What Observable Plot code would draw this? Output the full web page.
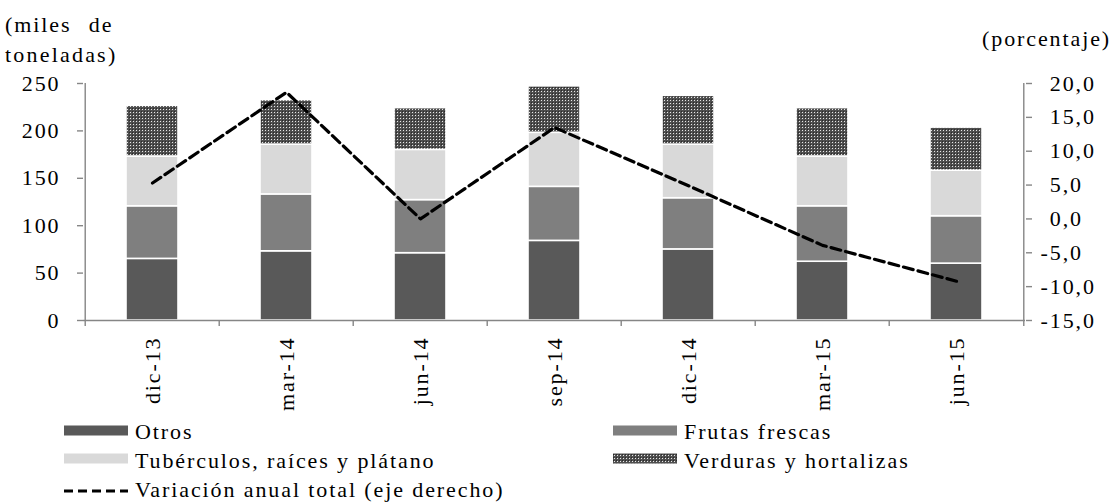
<!DOCTYPE html>
<html>
<head>
<meta charset="utf-8">
<script src="https://cdn.jsdelivr.net/npm/d3@7"></script>
<script src="https://cdn.jsdelivr.net/npm/@observablehq/plot@0.6"></script>
<style>
  html, body { margin: 0; padding: 0; background: #fff; }
  #wrap { position: relative; width: 1115px; height: 503px; overflow: hidden;
          font-family: "Liberation Serif", "Times New Roman", serif; font-size: 22px;
          letter-spacing: 1.9px; color: #000; }
  .lbl { position: absolute; line-height: 22px; white-space: nowrap; }
  .sw { position: absolute; }
</style>
</head>
<body>
<div id="wrap"></div>
<script>
// ---- Data ----
const categories = ["dic-13", "mar-14", "jun-14", "sep-14", "dic-14", "mar-15", "jun-15"];
const seriesNames = ["Otros", "Frutas frescas", "Tubérculos, raíces y plátano", "Verduras y hortalizas"];
const otros      = [65, 73, 71, 84, 75, 62, 60];
const frutas     = [55.5, 60, 56, 57, 54, 58.5, 50];
const tuberculos = [52.5, 52.5, 53, 57, 56.5, 52.5, 48];
const verduras   = [53.5, 47, 44, 49, 51.5, 51, 45.5];
const lineName = "Variación anual total (eje derecho)";
const variacion  = [5.3, 18.7, 0.0, 13.5, 4.9, -3.9, -9.2];
const leftTicks  = [0, 50, 100, 150, 200, 250];
const rightTicks = [-15, -10, -5, 0, 5, 10, 15, 20];
const leftTitle  = ["(miles de", "toneladas)"];
const rightTitle = "(porcentaje)";

// ---- Styling ----
const fills = ["#595959", "#7f7f7f", "#d9d9d9", "url(#verdPat)"];
const axisColor = "#868686";
const W = 1115, H = 420, mL = 83, mR = 90, mT = 83, mB = 100;
const bw = (W - mL - mR) / categories.length;

const leftMax = leftTicks[leftTicks.length - 1];
const rMin = rightTicks[0], rMax = rightTicks[rightTicks.length - 1];
const toLeft = v => (v - rMin) / (rMax - rMin) * leftMax;
const fromLeft = d => Math.round((d / leftMax * (rMax - rMin) + rMin) * 10) / 10;
const fmtRight = d => {
  let v = fromLeft(d); if (Object.is(v, -0)) v = 0;
  const s = v.toFixed(1).replace(".", ",");
  return v < 0 ? s : "\u2004" + s;
};
const yPerPx = leftMax / (H - mT - mB);

const seriesValues = [otros, frutas, tuberculos, verduras];
const stacked = [];
seriesNames.forEach((s, i) => categories.forEach((c, j) => stacked.push({cat: c, serie: s, value: seriesValues[i][j]})));
const lineData = categories.map((c, j) => ({cat: c, value: variacion[j]}));

const svg = Plot.plot({
  width: W, height: H,
  marginLeft: mL, marginRight: mR, marginTop: mT, marginBottom: mB,
  style: {fontFamily: "'Liberation Serif', 'Times New Roman', serif", fontSize: "22px",
          letterSpacing: "1.9px", color: "#000", background: "transparent", overflow: "visible"},
  x: {type: "band", domain: categories, padding: 0, axis: null},
  y: {domain: [0, leftMax], axis: null},
  color: {domain: seriesNames, range: fills},
  marks: [
    Plot.barY(stacked, {x: "cat", y: "value", fill: "serie", order: seriesNames,
      stroke: "white", strokeWidth: 1.6, insetLeft: 41, insetRight: 41}),
    Plot.ruleY([0], {stroke: axisColor, strokeWidth: 1.4}),
    Plot.ruleX([categories[0]], {x: d => d, dx: -bw / 2, y1: 0, y2: leftMax, stroke: axisColor, strokeWidth: 1.4}),
    Plot.ruleX([categories[categories.length - 1]], {x: d => d, dx: bw / 2, y1: 0, y2: leftMax, stroke: axisColor, strokeWidth: 1.4}),
    Plot.ruleX(categories, {x: d => d, dx: -bw / 2, y1: 0, y2: -6 * yPerPx, stroke: axisColor, strokeWidth: 1.4}),
    Plot.ruleX([categories[categories.length - 1]], {x: d => d, dx: bw / 2, y1: 0, y2: -6 * yPerPx, stroke: axisColor, strokeWidth: 1.4}),
    Plot.axisY(leftTicks, {anchor: "left", tickSize: 6, tickPadding: 17, stroke: axisColor, strokeWidth: 1.4, fill: "#000", label: null}),
    Plot.axisY(rightTicks.map(toLeft), {anchor: "right", tickSize: 6, tickPadding: 9, stroke: axisColor, strokeWidth: 1.4, fill: "#000", label: null, tickFormat: fmtRight}),
    Plot.axisX({anchor: "bottom", tickSize: 0, tickPadding: 16, tickRotate: -90, fill: "#000", label: null}),
    Plot.lineY(lineData, {x: "cat", y: d => toLeft(d.value), stroke: "#000", strokeWidth: 3.2, strokeDasharray: "10,5"})
  ]
});

// pattern for "Verduras y hortalizas"
const defs = d3.select(svg).insert("defs", ":first-child");
const pat = defs.append("pattern").attr("id", "verdPat").attr("patternUnits", "userSpaceOnUse")
  .attr("width", 3).attr("height", 3);
pat.append("rect").attr("width", 3).attr("height", 3).attr("fill", "#4f4f4f");
pat.append("rect").attr("x", 1).attr("y", 1).attr("width", 1).attr("height", 1).attr("fill", "#e8e8e8");
pat.append("rect").attr("x", 0).attr("y", 0).attr("width", 1).attr("height", 1).attr("fill", "#2a2a2a");

const wrap = document.getElementById("wrap");
svg.style.position = "absolute"; svg.style.left = "0px"; svg.style.top = "0px";
wrap.appendChild(svg);

function addText(txt, x, baseline, extraStyle) {
  const d = document.createElement("div");
  d.className = "lbl";
  d.textContent = txt;
  d.style.left = x + "px";
  d.style.top = (baseline - 18.4) + "px";
  if (extraStyle) Object.assign(d.style, extraStyle);
  wrap.appendChild(d);
  return d;
}
// axis titles
addText(leftTitle[0], 5, 32, {wordSpacing: "10px"});
addText(leftTitle[1], 5, 62, {letterSpacing: "2.2px"});
addText(rightTitle, 982, 46);

// legend
const legendItems = [
  {name: seriesNames[0], fill: fills[0], col: 0, row: 0},
  {name: seriesNames[1], fill: fills[1], col: 1, row: 0},
  {name: seriesNames[2], fill: fills[2], col: 0, row: 1},
  {name: seriesNames[3], fill: fills[3], col: 1, row: 1},
  {name: lineName, line: true, col: 0, row: 2}
];
const colSw = [64, 613], colTx = [135, 684];
legendItems.forEach(it => {
  const base = 439.5 + it.row * 28.7;
  const s = document.createElementNS("http://www.w3.org/2000/svg", "svg");
  s.setAttribute("width", 66); s.setAttribute("height", 20);
  s.setAttribute("class", "sw");
  s.style.left = colSw[it.col] + "px";
  s.style.top = (base - 17) + "px";
  if (it.line) {
    s.innerHTML = `<line x1="0" x2="64" y1="11" y2="11" stroke="#000" stroke-width="3" stroke-dasharray="9,5"/>`;
  } else {
    s.innerHTML = `<rect x="0" y="2.5" width="64" height="10" fill="${it.fill}"/>`;
  }
  wrap.appendChild(s);
  addText(it.name, colTx[it.col], base);
});
</script>
</body>
</html>
